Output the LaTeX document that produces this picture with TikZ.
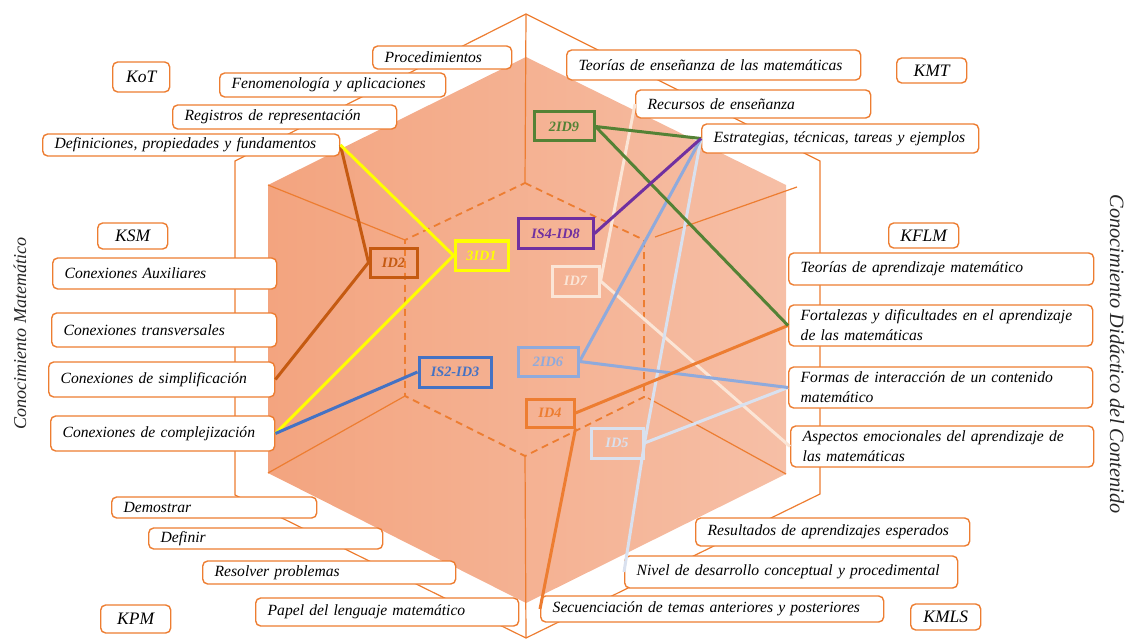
\documentclass[tikz,border=0pt]{standalone}
\usepackage{fontspec}
\setmainfont{Liberation Serif}
\definecolor{org}{HTML}{ED7D31}
\definecolor{fillL}{RGB}{243,164,127}
\definecolor{fillR}{RGB}{246,191,166}
\definecolor{cA}{HTML}{FFFF00}
\definecolor{cB}{HTML}{C55A11}
\definecolor{cC}{HTML}{4472C4}
\definecolor{cD}{HTML}{ED7D31}
\definecolor{cE}{HTML}{D9E1EF}
\definecolor{cF}{HTML}{8FAADC}
\definecolor{cG}{HTML}{FBE5D6}
\definecolor{cH}{HTML}{7030A0}
\definecolor{cI}{HTML}{548235}
\tikzset{
  thinline/.style={draw=org, line width=1.2pt},
  dashline/.style={draw=org, line width=1.8pt, dash pattern=on 7pt off 5pt},
  lb/.style={draw=org, line width=1.4pt, rounded corners=5pt, fill=white, anchor=west,
    inner xsep=12pt, inner ysep=0pt, align=left, text=black,
    font=\itshape\fontsize{15.6}{20}\selectfont},
  kb/.style={draw=org, line width=1.4pt, rounded corners=5pt, fill=white, anchor=west,
    inner sep=0pt, text=black, font=\itshape\fontsize{17.5}{20}\selectfont},
  idb/.style={draw=#1, text=#1, line width=3pt, inner sep=0pt,
    font=\bfseries\itshape\fontsize{14.3}{16}\selectfont},
  con/.style={draw=#1, line width=3pt, line join=round},
  side/.style={text=black!85, font=\itshape\fontsize{#1}{#1}\selectfont}
}
\begin{document}
\begin{tikzpicture}[x=1pt,y=-1pt]
\useasboundingbox (0,0) rectangle (1127,639);
% hexagon body
\shade[left color=fillL, right color=fillR] (526,57) -- (786,185) -- (786,474) -- (526,603) -- (268,473) -- (268,185) -- cycle;
\draw[thinline] (526,14) -- (820,161) -- (820,494) -- (526,638) -- (235,495) -- (235,161) -- cycle;
\draw[thinline] (526,14) -- (525,183);
\draw[thinline] (525,456) -- (526,638);
\draw[thinline] (268,185) -- (405,240);
\draw[thinline] (405,396) -- (268,473);
\draw[thinline] (655,237) -- (797,187);
\draw[thinline] (648,398) -- (786,474);
\draw[dashline] (525,183) -- (644,240) -- (644,397) -- (525,456) -- (405,396) -- (405,240) -- cycle;

% side titles
\node[side=18.1, rotate=90] (cm) at (20,333.5) {Conocimiento Matemático};
\node[side=20.3, rotate=-90] (cdc) at (1117,354) {Conocimiento Didáctico del Contenido};

% KoT
\node[lb, text width=115pt, minimum height=23pt] (Proc) at (372,57.5) {Procedimientos};
\node[kb, minimum width=57pt, minimum height=30pt] (KoT) at (112,77) {KoT};
\node[lb, text width=202pt, minimum height=24pt] (Fen) at (219,85) {Fenomenología y aplicaciones};
\node[lb, text width=200pt, minimum height=24pt] (Reg) at (172,117) {Registros de representación};
\node[lb, text width=273pt, minimum height=22pt] (Def) at (42,145) {Definiciones, propiedades y fundamentos};
% KSM
\node[kb, minimum width=70pt, minimum height=26pt] (KSM) at (97,236) {KSM};
\node[lb, text width=200pt, minimum height=31pt] (ConAux) at (52,273.5) {Conexiones Auxiliares};
\node[lb, text width=201pt, minimum height=34pt] (ConTra) at (51,330) {Conexiones transversales};
\node[lb, text width=202pt, minimum height=35pt] (ConSim) at (48,379.5) {Conexiones de simplificación};
\node[lb, text width=200pt, minimum height=35pt] (ConCom) at (50,433.5) {Conexiones de complejización};
% KPM
\node[lb, text width=181pt, minimum height=21pt] (Dem) at (111,507.5) {Demostrar};
\node[lb, text width=210pt, minimum height=21pt] (Defi) at (148,538.5) {Definir};
\node[lb, text width=229pt, minimum height=23pt] (Res) at (202,572.5) {Resolver problemas};
\node[lb, text width=239pt, minimum height=28pt] (Pap) at (255,612) {Papel del lenguaje matemático};
\node[kb, minimum width=70pt, minimum height=28pt] (KPM) at (100,619) {KPM};
% KMT
\node[lb, text width=270pt, minimum height=30pt] (TeoEns) at (566,65) {Teorías de enseñanza de las matemáticas};
\node[kb, minimum width=70pt, minimum height=25pt] (KMT) at (896,70.5) {KMT};
\node[lb, text width=211pt, minimum height=28pt] (Rec) at (635,104) {Recursos de enseñanza};
\node[lb, text width=253pt, minimum height=29pt] (Estr) at (701,138.5) {Estrategias, técnicas, tareas y ejemplos};
% KFLM
\node[kb, minimum width=70pt, minimum height=25pt] (KFLM) at (888,235.5) {KFLM};
\node[lb, text width=281pt, minimum height=32pt] (TeoApr) at (788,269) {Teorías de aprendizaje matemático};
\node[lb, text width=280pt, minimum height=41pt] (Fort) at (788,325.5) {Fortalezas y dificultades en el aprendizaje\\de las matemáticas};
\node[lb, text width=280pt, minimum height=41pt] (Form) at (788,387.5) {Formas de interacción de un contenido\\matemático};
\node[lb, text width=279pt, minimum height=41pt] (Asp) at (790,446.5) {Aspectos emocionales del aprendizaje de\\las matemáticas};
% KMLS
\node[lb, text width=250pt, minimum height=28pt] (Resu) at (695,532) {Resultados de aprendizajes esperados};
\node[lb, text width=309pt, minimum height=32pt] (Niv) at (624,572) {Nivel de desarrollo conceptual y procedimental};
\node[lb, text width=319pt, minimum height=26pt] (Sec) at (540,609) {Secuenciación de temas anteriores y posteriores};
\node[kb, minimum width=70pt, minimum height=26pt] (KMLS) at (910,617) {KMLS};

% indicator boxes
\node[idb=cI, minimum width=60pt, minimum height=29pt] (ID9) at (564,126.5) {2ID9};
\node[idb=cH, minimum width=75pt, minimum height=29pt] (ID8) at (555.5,233.5) {IS4-ID8};
\node[idb=cA, minimum width=53pt, minimum height=29pt] (ID1) at (481.5,255.5) {3ID1};
\node[idb=cB, minimum width=47pt, minimum height=29pt] (ID2) at (393.5,262.5) {ID2};
\node[idb=cG, minimum width=47pt, minimum height=30pt] (ID7) at (575.5,281) {ID7};
\node[idb=cF, minimum width=60pt, minimum height=29pt] (ID6) at (548,361.5) {2ID6};
\node[idb=cC, minimum width=72pt, minimum height=30pt] (ID3) at (455,372) {IS2-ID3};
\node[idb=cD, minimum width=48pt, minimum height=28pt] (ID4) at (550,413) {ID4};
\node[idb=cE, minimum width=52pt, minimum height=30pt] (ID5) at (617,443) {ID5};

% connectors
\draw[con=cG] (Rec.west) -- (ID7.east) -- (Asp.west);
\draw[con=cE] (Estr.west) -- (ID5.east) -- (Niv.west);
\draw[con=cE] (ID5.east) -- (Form.west);
\draw[con=cF] (Estr.west) -- (ID6.east) -- (Form.west);
\draw[con=cD] (Fort.west) -- (ID4.east);
\draw[con=cD] (ID4.south east) -- (Sec.west);
\draw[con=cI] (Estr.west) -- (ID9.east) -- (Fort.west);
\draw[con=cH] (ID8.east) -- (Estr.west);
\draw[con=cB] (Def.east) -- (ID2.west) -- (ConSim.east);
\draw[con=cA] (Def.east) -- (ID1.west) -- (ConCom.east);
\draw[con=cC] (ConCom.east) -- (ID3.west);
\end{tikzpicture}
\end{document}
